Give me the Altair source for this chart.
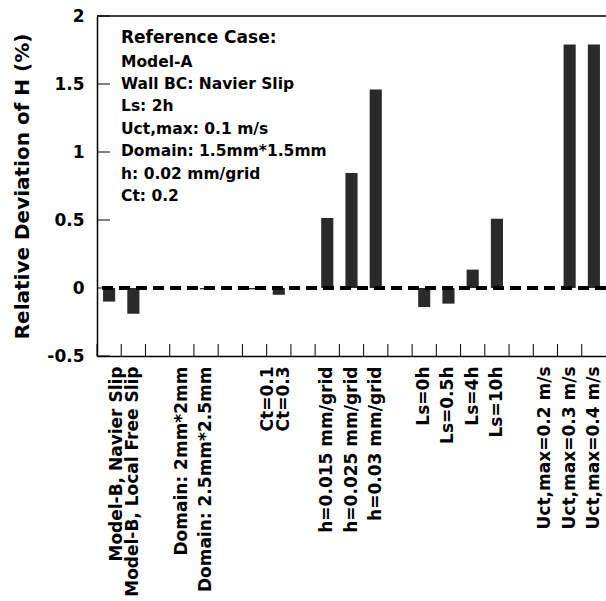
import altair as alt
import pandas as pd

# Category slots along the x axis; whitespace entries are empty separators between groups
categories = [
    "Model-B, Navier Slip", "Model-B, Local Free Slip", " ",
    "Domain: 2mm*2mm", "Domain: 2.5mm*2.5mm", "  ",
    "Ct=0.1", "Ct=0.3", "   ",
    "h=0.015 mm/grid", "h=0.025 mm/grid", "h=0.03 mm/grid", "    ",
    "Ls=0h", "Ls=0.5h", "Ls=4h", "Ls=10h", "     ",
    "Uct,max=0.2 m/s", "Uct,max=0.3 m/s", "Uct,max=0.4 m/s",
]

# Cases with a bar and their relative deviation of H (%)
cases = [
    "Model-B, Navier Slip", "Model-B, Local Free Slip",
    "Domain: 2mm*2mm", "Domain: 2.5mm*2.5mm",
    "Ct=0.1", "Ct=0.3",
    "h=0.015 mm/grid", "h=0.025 mm/grid", "h=0.03 mm/grid",
    "Ls=0h", "Ls=0.5h", "Ls=4h", "Ls=10h",
    "Uct,max=0.2 m/s", "Uct,max=0.3 m/s", "Uct,max=0.4 m/s",
]
deviation = [
    -0.10, -0.19,
    0.0, -0.01,
    -0.01, -0.05,
    0.515, 0.845, 1.46,
    -0.14, -0.115, 0.135, 0.51,
    0.0, 1.79, 1.79,
]

y_ticks = [-0.5, 0, 0.5, 1, 1.5, 2]

case_title = "Reference Case:"
case_lines = [
    "Model-A",
    "Wall BC: Navier Slip",
    "Ls: 2h",
    "Uct,max: 0.1 m/s",
    "Domain: 1.5mm*1.5mm",
    "h: 0.02 mm/grid",
    "Ct: 0.2",
]

FONT = "DejaVu Sans"
W, H = 509, 340

bars_df = pd.DataFrame({"category": cases, "value": deviation})
slots_df = pd.DataFrame({"category": categories})
yticks_df = pd.DataFrame({"value": y_ticks})
one_row = pd.DataFrame({"value": [0]})

x_scale = alt.Scale(domain=categories, paddingInner=0, paddingOuter=0)
y_scale = alt.Scale(domain=[-0.5, 2], nice=False)

x_axis = alt.Axis(
    title=None,
    labelAngle=-90,
    labelFont=FONT,
    labelFontSize=17,
    labelFontWeight="bold",
    labelColor="black",
    labelPadding=10,
    labelLimit=320,
    labelOffset={
        "condition": [
            {"test": "datum.value === 'Model-B, Navier Slip'", "value": 8},
            {"test": "datum.value === 'Ct=0.1'", "value": 13},
            {"test": "datum.value === 'Ct=0.3'", "value": 5},
        ],
        "value": 0,
    },
    ticks=False,
    tickSize=0,
    grid=False,
    domainColor="black",
    domainWidth=1.5,
)

y_axis = alt.Axis(
    title="Relative Deviation of H (%)",
    titleFont=FONT,
    titleFontSize=20,
    titleFontWeight="bold",
    titleColor="black",
    titleX=-75,
    titleY=H / 2,
    titleAngle=270,
    titleAlign="center",
    titleBaseline="middle",
    values=y_ticks,
    labelExpr="'' + datum.value",
    labelFont=FONT,
    labelFontSize=17,
    labelFontWeight="bold",
    labelColor="black",
    labelPadding=13,
    ticks=False,
    tickSize=0,
    grid=False,
    domainColor="black",
    domainWidth=1.5,
)


def x_enc(**kw):
    return alt.X("category:N", scale=x_scale, axis=x_axis, **kw)


def y_enc():
    return alt.Y("value:Q", scale=y_scale, axis=y_axis)


bars = alt.Chart(bars_df).mark_bar(
    width=alt.RelativeBandSize(0.5), color="#2a2a2a"
).encode(x=x_enc(), y=y_enc())

# Inward tick marks on the category axis, at the slot boundaries
x_ticks = alt.Chart(slots_df).mark_rule(color="black", strokeWidth=1).encode(
    x=x_enc(bandPosition=0), y=alt.value(H), y2=alt.value(H - 12)
)

# Inward tick marks on the value axis
y_tick_marks = alt.Chart(yticks_df).mark_rule(color="black", strokeWidth=1).encode(
    y=y_enc(), x=alt.value(0), x2=alt.value(13)
)

top_border = alt.Chart(one_row).mark_rule(color="black", strokeWidth=1.5).encode(
    y=alt.value(0)
)

zero_line = alt.Chart(one_row).mark_rule(
    color="black", strokeWidth=4, strokeDash=[11, 6]
).encode(y=alt.datum(0, scale=y_scale))

title_text = alt.Chart(one_row).mark_text(
    text=case_title,
    align="left",
    baseline="alphabetic",
    font=FONT,
    fontSize=17,
    fontWeight="bold",
    color="black",
).encode(x=alt.value(24), y=alt.value(27))

body_text = alt.Chart(one_row).mark_text(
    text=case_lines,
    align="left",
    baseline="alphabetic",
    font=FONT,
    fontSize=15.5,
    fontWeight="bold",
    color="black",
    lineHeight=22.4,
).encode(x=alt.value(24), y=alt.value(50.5))

chart = alt.layer(
    bars, zero_line, x_ticks, y_tick_marks, top_border, title_text, body_text
).properties(
    width=W,
    height=H,
    padding={"left": 97, "top": 16, "right": 0, "bottom": 245},
    autosize="none",
    background="white",
).configure_view(strokeWidth=0)

chart.save("out.html", embed_options={"renderer": "svg", "actions": False})
